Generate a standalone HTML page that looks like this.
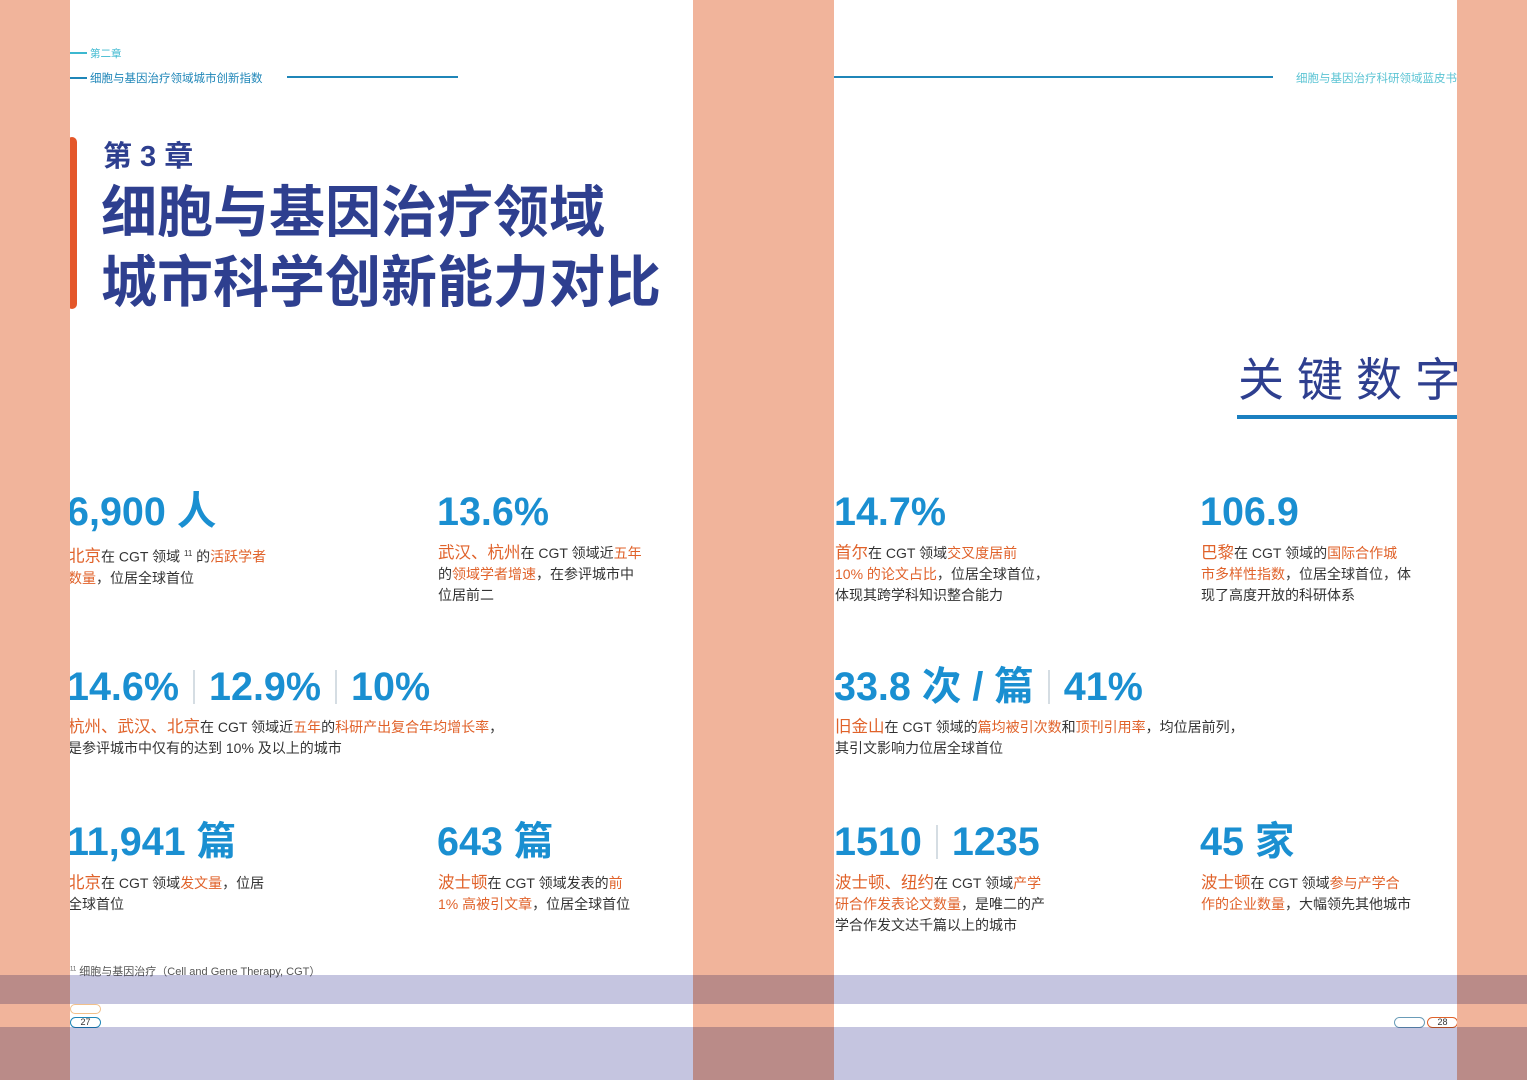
<!DOCTYPE html>
<html><head><meta charset="utf-8">
<style>
*{margin:0;padding:0;box-sizing:border-box}
body{width:1527px;height:1080px;position:relative;background:#fff;overflow:hidden;font-family:"Liberation Sans","Noto Sans CJK SC",sans-serif;color:#333}
.a{position:absolute;white-space:nowrap}
.num{font-size:39.5px;font-weight:bold;color:#1a8fd1;line-height:1;letter-spacing:0px}
.sep{display:inline-block;width:2px;height:34px;background:#d5dde3;vertical-align:-4px;margin:0 14px}
.txt{font-size:14px;line-height:21px;color:#333}
.o{color:#e0622a}
.c{font-size:16.5px;color:#e0622a}
.band{position:absolute}
</style></head><body>
<div class="a" style="left:70px;top:46px;font-size:10.5px;color:#3cb8d0"><span style="display:inline-block;width:17px;height:2px;background:#3cb8d0;vertical-align:3px;margin-right:3px"></span>第二章</div>
<div class="a" style="left:70px;top:70px;font-size:11.5px;color:#1f86b8"><span style="display:inline-block;width:17px;height:2px;background:#1f86b8;vertical-align:3px;margin-right:3px"></span>细胞与基因治疗领域城市创新指数</div>
<div class="a" style="left:287px;top:76px;width:171px;height:2px;background:#1f86b8"></div>
<div class="a" style="left:834px;top:76px;width:439px;height:2px;background:#1f86b8"></div>
<div class="a" style="left:1296px;top:70px;font-size:11.5px;color:#5cc4d4">细胞与基因治疗科研领域蓝皮书</div>

<div class="a" style="left:67px;top:137px;width:10px;height:172px;background:#e4572a;border-radius:5px"></div>
<div class="a" style="left:103px;top:133px;font-size:29px;font-weight:bold;color:#2e3f8f">第 3 章</div>
<div class="a" style="left:101px;top:178px;font-size:56px;font-weight:bold;color:#2e3f8f;line-height:70px">细胞与基因治疗领域<br>城市科学创新能力对比</div>

<div class="a" style="left:1238px;top:344px;font-size:46px;color:#2e3f8f;letter-spacing:13px">关键数字</div>
<div class="a" style="left:1237px;top:415px;width:220px;height:4px;background:#1a7fc0"></div>

<div class="a num" style="left:67px;top:493px">6,900 人</div>
<div class="a txt" style="left:68px;top:543px"><span class="c">北京</span>在 CGT 领域 <sup style="font-size:8px">11</sup> 的<span class="o">活跃学者</span><br><span class="o">数量</span>，位居全球首位</div>

<div class="a num" style="left:437px;top:493px">13.6%</div>
<div class="a txt" style="left:438px;top:543px"><span class="c">武汉、杭州</span>在 CGT 领域近<span class="o">五年</span><br>的<span class="o">领域学者增速</span>，在参评城市中<br>位居前二</div>

<div class="a num" style="left:67px;top:668px">14.6%<span class="sep"></span>12.9%<span class="sep"></span>10%</div>
<div class="a txt" style="left:68px;top:717px"><span class="c">杭州、武汉、北京</span>在 CGT 领域近<span class="o">五年</span>的<span class="o">科研产出复合年均增长率</span>，<br>是参评城市中仅有的达到 10% 及以上的城市</div>

<div class="a num" style="left:67px;top:823px">11,941 篇</div>
<div class="a txt" style="left:68px;top:873px"><span class="c">北京</span>在 CGT 领域<span class="o">发文量</span>，位居<br>全球首位</div>

<div class="a num" style="left:437px;top:823px">643 篇</div>
<div class="a txt" style="left:438px;top:873px"><span class="c">波士顿</span>在 CGT 领域发表的<span class="o">前</span><br><span class="o">1% 高被引文章</span>，位居全球首位</div>

<div class="a num" style="left:834px;top:493px">14.7%</div>
<div class="a txt" style="left:835px;top:543px"><span class="c">首尔</span>在 CGT 领域<span class="o">交叉度居前</span><br><span class="o">10% 的论文占比</span>，位居全球首位，<br>体现其跨学科知识整合能力</div>

<div class="a num" style="left:1200px;top:493px">106.9</div>
<div class="a txt" style="left:1201px;top:543px"><span class="c">巴黎</span>在 CGT 领域的<span class="o">国际合作城</span><br><span class="o">市多样性指数</span>，位居全球首位，体<br>现了高度开放的科研体系</div>

<div class="a num" style="left:834px;top:668px">33.8 次 / 篇<span class="sep"></span>41%</div>
<div class="a txt" style="left:835px;top:717px"><span class="c">旧金山</span>在 CGT 领域的<span class="o">篇均被引次数</span>和<span class="o">顶刊引用率</span>，均位居前列，<br>其引文影响力位居全球首位</div>

<div class="a num" style="left:834px;top:823px">1510<span class="sep"></span>1235</div>
<div class="a txt" style="left:835px;top:873px"><span class="c">波士顿、纽约</span>在 CGT 领域<span class="o">产学</span><br><span class="o">研合作发表论文数量</span>，是唯二的产<br>学合作发文达千篇以上的城市</div>

<div class="a num" style="left:1200px;top:823px">45 家</div>
<div class="a txt" style="left:1201px;top:873px"><span class="c">波士顿</span>在 CGT 领域<span class="o">参与产学合</span><br><span class="o">作的企业数量</span>，大幅领先其他城市</div>

<div class="a" style="left:70px;top:963px;font-size:11px;color:#555"><sup style="font-size:6px">11</sup> 细胞与基因治疗（Cell and Gene Therapy, CGT）</div>

<div class="a" style="left:70px;top:1004px;width:31px;height:10px;border:1.5px solid #f2c08a;border-radius:6px"></div>
<div class="a" style="left:70px;top:1017px;width:31px;height:11px;border:1.5px solid #1f86b8;border-radius:6px;font-size:9px;line-height:8px;text-align:center;color:#333">27</div>
<div class="a" style="left:1394px;top:1017px;width:31px;height:11px;border:1.5px solid #6a9cb8;border-radius:6px"></div>
<div class="a" style="left:1427px;top:1017px;width:31px;height:11px;border:1.5px solid #e0622a;border-radius:6px;font-size:9px;line-height:8px;text-align:center;color:#333">28</div>

<div class="band" style="left:0;top:0;width:70px;height:1080px;background:#f1b49b"></div>
<div class="band" style="left:693px;top:0;width:141px;height:1080px;background:#f1b49b"></div>
<div class="band" style="left:1457px;top:0;width:70px;height:1080px;background:#f1b49b"></div>
<div class="band" style="left:0;top:975px;width:1527px;height:29px;background:#c5c5e0;mix-blend-mode:multiply"></div>
<div class="band" style="left:0;top:1027px;width:1527px;height:53px;background:#c5c5e0;mix-blend-mode:multiply"></div>
</body></html>
